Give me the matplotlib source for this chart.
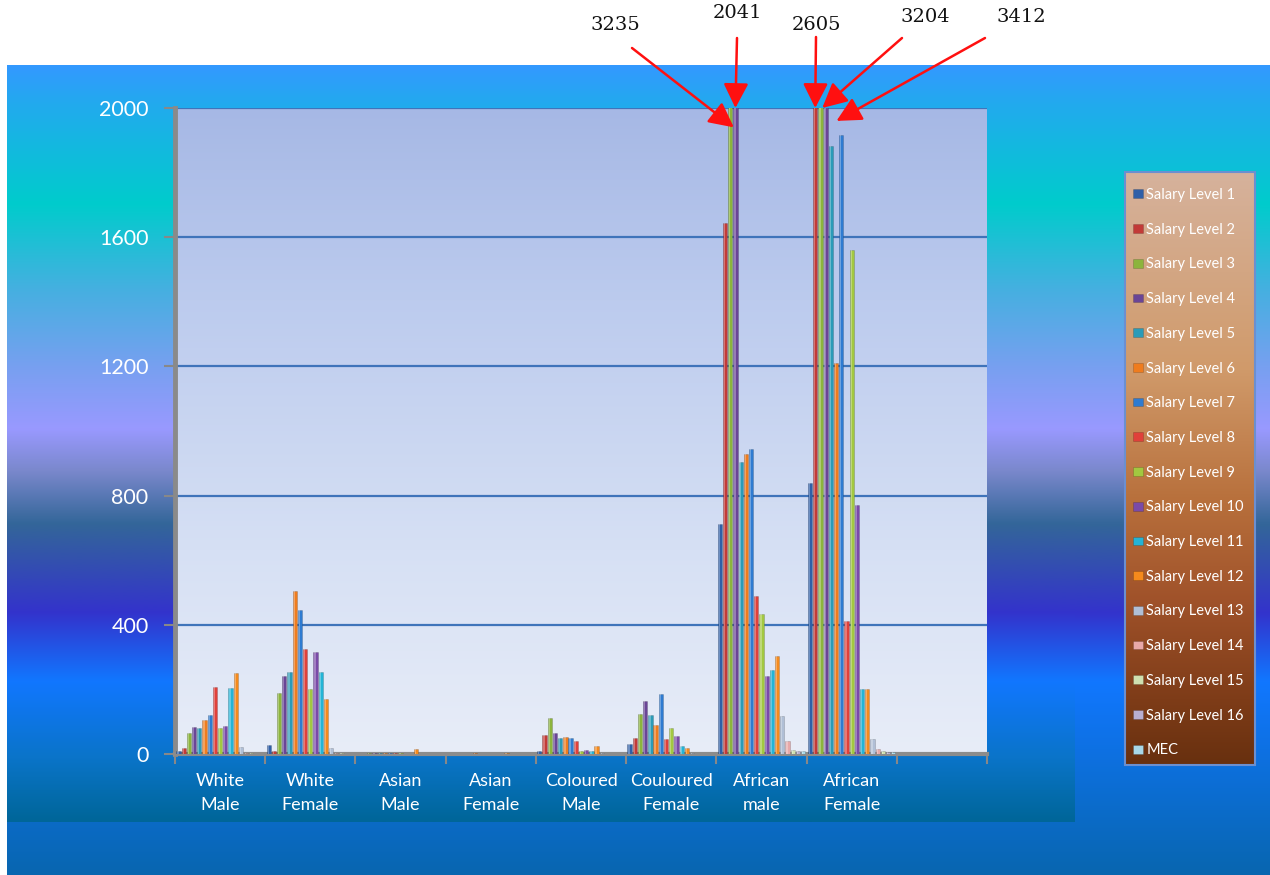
import numpy as np
import matplotlib
matplotlib.use("Agg")
import matplotlib.pyplot as plt
from matplotlib.colors import to_rgb

# dane
kategorie = ["White\nMale", "White\nFemale", "Asian\nMale", "Asian\nFemale",
             "Coloured\nMale", "Couloured\nFemale", "African\nmale", "African\nFemale"]
poziomy = ["Salary Level %d" % i for i in range(1, 17)] + ["MEC"]

# jedna lista na kategorie, kolejno Salary Level 1..16 i MEC
white_male = [10, 20, 65, 85, 80, 105, 120, 208, 80, 87, 205, 250, 22, 3, 2, 1, 1]
white_female = [28, 8, 190, 240, 255, 505, 445, 325, 200, 317, 253, 170, 18, 4, 2, 1, 1]
asian_male = [1, 1, 2, 2, 2, 3, 2, 2, 2, 1, 1, 17, 1, 0, 0, 0, 0]
asian_female = [1, 1, 1, 1, 1, 2, 1, 1, 1, 1, 1, 2, 0, 0, 0, 0, 0]
coloured_male = [10, 60, 110, 65, 50, 53, 50, 40, 10, 12, 10, 25, 2, 1, 1, 0, 0]
coloured_female = [30, 50, 125, 165, 120, 90, 185, 45, 80, 57, 25, 20, 3, 1, 1, 0, 0]
african_male = [712, 1645, 3235, 2041, 905, 928, 945, 489, 433, 240, 260, 303, 118, 40, 12, 8, 8]
african_female = [839, 2605, 3204, 3412, 1882, 1211, 1915, 411, 1560, 772, 200, 200, 45, 17, 8, 5, 5]

y_ticks = [0, 400, 800, 1200, 1600, 2000]

tabela = np.array([white_male, white_female, asian_male, asian_female,
                   coloured_male, coloured_female, african_male, african_female])

kolory = ["#2f5fa8", "#c23a37", "#8cb43c", "#6a4596", "#2a9bb8", "#ef7c1e",
          "#2e7bd1", "#e0403a", "#a2c840", "#7a4aa8", "#23b4d6", "#f58a1c",
          "#b0bfd6", "#e8a8a8", "#cfe0b0", "#b8aed0", "#a8d8e8"]

W, H = 1270, 875
plt.rcParams['font.family'] = ['Lato', 'DejaVu Sans']


def rect(x0, y0, x1, y1):
    return [x0 / W, 1 - y1 / H, (x1 - x0) / W, (y1 - y0) / H]


def gradient(ax, x0, x1, y0, y1, stops):
    ys = np.linspace(y0, y1, 300)
    pos = [s[0] for s in stops]
    rgb = np.array([to_rgb(s[1]) for s in stops])
    img = np.stack([np.interp(ys, pos, rgb[:, k]) for k in range(3)], axis=-1)[:, None, :]
    ax.imshow(img, extent=(x0, x1, y1, y0), aspect='auto', interpolation='bilinear')


fig = plt.figure(figsize=(W / 100, H / 100), dpi=100)
fig.patch.set_facecolor("white")

# tlo (w pikselach)
bg = fig.add_axes([0, 0, 1, 1])
bg.set_zorder(-5)
slajd = [(65, "#3399ff"), (103, "#22aaee"), (203, "#00cccc"), (287, "#44b0e0"),
         (366, "#77a0f0"), (429, "#9999ff"), (471, "#7a88cc"), (524, "#336699"),
         (613, "#3333cc"), (682, "#1177ff"), (875, "#0866b0")]
gradient(bg, 7, W, 65, H, slajd)
wykres = slajd[:-1] + [(760, "#0a74c8"), (822, "#006699")]
gradient(bg, 7, 1075, 65, 822, wykres)
# obszar wykresu
gradient(bg, 175, 987, 108, 754, [(108, "#a6b8e5"), (300, "#bccbee"), (550, "#d6e0f4"), (754, "#e8edf8")])
# legenda
gradient(bg, 1125, 1255, 172, 765, [(172, "#d6b29c"), (370, "#d09a6a"), (500, "#b8703c"),
                                   (600, "#a0522a"), (700, "#7e3c18"), (765, "#68300f")])
bg.add_patch(plt.Rectangle((1125, 172), 130, 593, fill=False, edgecolor="#6b8fd0", lw=1.5))
bg.set_xlim(0, W)
bg.set_ylim(H, 0)
bg.axis('off')

# wykres slupkowy
ax = fig.add_axes(rect(175, 108, 987, 754))
ax.set_facecolor("none")
x = np.arange(len(kategorie))
n = len(poziomy)
krok = 0.0577
w = 0.047
for i in range(n):
    pos = x + (i - (n - 1) / 2) * krok
    ax.bar(pos, tabela[:, i], w, color=kolory[i], edgecolor="#00000040", linewidth=0.4,
           label=poziomy[i], zorder=3)
    ax.bar(pos - w * 0.12, tabela[:, i], w * 0.3, color="white", alpha=0.3, linewidth=0,
           zorder=4)

ax.set_xlim(-0.5, len(kategorie) + 0.5)
ax.set_ylim(0, 2000)
ax.set_yticks(y_ticks)
ax.set_yticklabels([str(t) for t in y_ticks], color="white", fontsize=15.5)
ax.tick_params(axis='y', length=8, width=1.5, color="#888888", pad=11)
ax.grid(axis='y', color="#3f74ba", lw=1.6, zorder=1)

ax.set_xticks(np.arange(-0.5, len(kategorie) + 1, 1))
ax.set_xticklabels([])
ax.set_xticks(x, minor=True)
ax.set_xticklabels(kategorie, minor=True, color="white", fontsize=13, linespacing=1.65)
ax.tick_params(axis='x', which='major', length=7, width=1.5, color="#888888")
ax.tick_params(axis='x', which='minor', length=0, pad=13.5)

for s in ['top', 'right']:
    ax.spines[s].set_visible(False)
ax.spines['left'].set_color("#8a8a8a")
ax.spines['left'].set_linewidth(3.5)
ax.spines['bottom'].set_color("#8c8c8c")
ax.spines['bottom'].set_linewidth(3)

# legenda
uchwyty, etykiety = ax.get_legend_handles_labels()
leg = fig.legend(uchwyty, etykiety, loc='upper left',
                 bbox_to_anchor=(1133 / W, 1 - 188 / H), frameon=False,
                 fontsize=10.5, labelcolor="white", labelspacing=1.42,
                 handlelength=0.7, handleheight=0.55, handletextpad=0.2,
                 borderaxespad=0, borderpad=0)

# adnotacje dla slupkow ponad skala
teksty = [(615, 25), (737, 13), (816, 25), (925, 17), (1021, 17)]
poczatki = [(632, 48), (737, 38), (816, 37), (902, 38), (985, 38)]
przesuniecia = [(0.04, 60), (0.0, 0), (0.0, 0), (0.02, 0), (0.12, 40)]
k = 0
for c in range(len(kategorie)):
    for i in range(n):
        v = tabela[c, i]
        if v > 2000:
            bx = c + (i - (n - 1) / 2) * krok + przesuniecia[k][0]
            by = 2000 - przesuniecia[k][1]
            tx, ty = teksty[k]
            fig.text(tx / W, 1 - ty / H, str(v), ha='center', va='center',
                     fontsize=14, family='DejaVu Serif', color="#111111")
            sx, sy = poczatki[k]
            ax.annotate('', xy=(bx, by), xycoords='data',
                        xytext=(sx / W, 1 - sy / H), textcoords='figure fraction',
                        arrowprops=dict(arrowstyle='-|>,head_length=0.75,head_width=0.38',
                                        color="#ff1010", lw=1.8, shrinkA=0, shrinkB=0,
                                        mutation_scale=20),
                        annotation_clip=False, zorder=10)
            k += 1

fig.savefig("out.png", dpi=100)
